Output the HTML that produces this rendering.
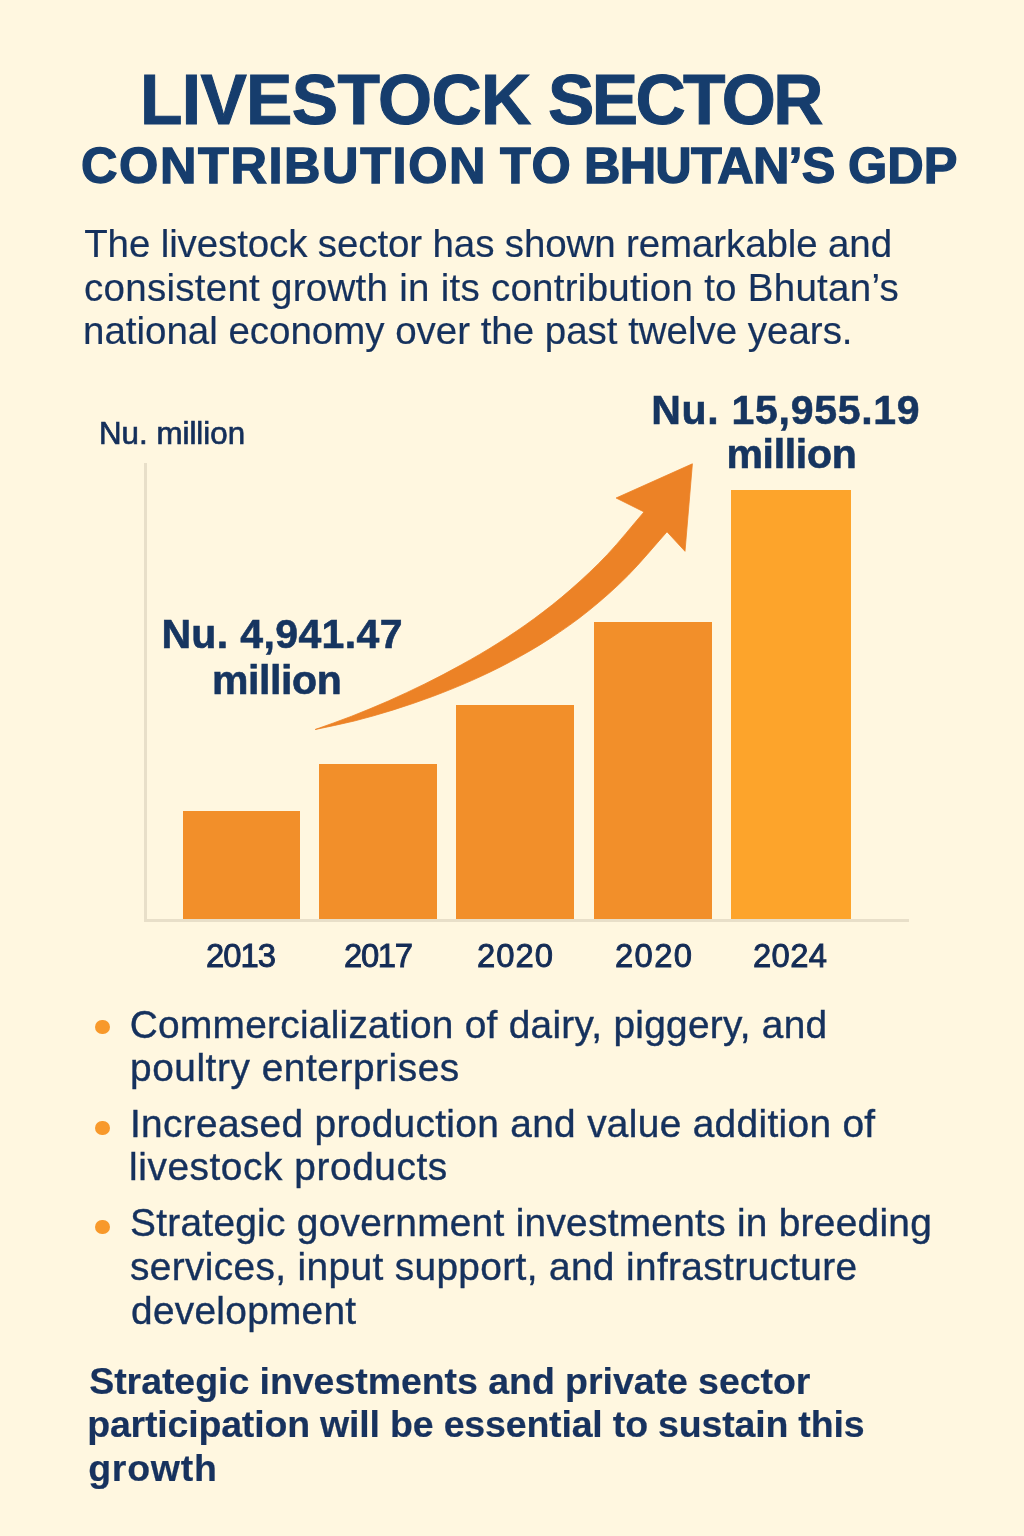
<!DOCTYPE html>
<html lang="en">
<head>
<meta charset="utf-8">
<title>Livestock Sector Contribution to Bhutan's GDP</title>
<style>
  html, body { margin: 0; padding: 0; }
  body {
    width: 1024px; height: 1536px; overflow: hidden; position: relative;
    background: #FFF7E0;
    font-family: "Liberation Sans", sans-serif;
    color: #1B2F5B;
  }
  .abs { position: absolute; white-space: nowrap; line-height: 1; margin: 0; font-weight: 400; }
  .hbox { position: absolute; left: 0; top: 0; width: 1024px; height: 0; margin: 0; padding: 0; font-size: 0; list-style: none; }
  .ttl  { font-weight: 700; color: #163D6D; -webkit-text-stroke: 1.0px #163D6D; }
  .ttl2 { font-weight: 700; color: #163D6D; -webkit-text-stroke: 1.3px #163D6D; }
  .intro { color: #15315D; -webkit-text-stroke: 0.2px #15315D; }
  .big { font-weight: 700; color: #163560; -webkit-text-stroke: 0.6px #163560; }
  .yr  { color: #142C56; -webkit-text-stroke: 0.9px #142C56; }
  .unit { color: #142F5A; -webkit-text-stroke: 0.7px #142F5A; }
  .li { color: #15315D; -webkit-text-stroke: 0.4px #15315D; }
  .foot { font-weight: 700; color: #17325E; -webkit-text-stroke: 0.2px #17325E; }
  .bar { position: absolute; background: #F28F2A; }
  .axis { position: absolute; background: #E8DFC9; }
  .dot { position: absolute; width: 14.4px; height: 14.4px; border-radius: 50%; background: #F8992B; left: 95.3px; }
</style>
</head>
<body>

<h1 class="hbox"><span class="abs ttl" id="h1a" style="left:140.0px; top:65.8px; font-size:69.5px; letter-spacing:-0.67px">LIVESTOCK</span> <span class="abs ttl" id="h1b" style="left:548.0px; top:65.8px; font-size:69.5px; letter-spacing:-2.60px">SECTOR</span></h1>
<h2 class="hbox"><span class="abs ttl2" id="h2a" style="left:81.0px; top:141.3px; font-size:50.5px; letter-spacing:1.58px">CONTRIBUTION</span> <span class="abs ttl2" id="h2b" style="left:500.0px; top:141.3px; font-size:50.5px; letter-spacing:1.48px">TO</span> <span class="abs ttl2" id="h2c" style="left:584.0px; top:141.3px; font-size:50.5px; letter-spacing:-0.81px">BHUTAN’S</span> <span class="abs ttl2" id="h2d" style="left:848.0px; top:141.3px; font-size:50.5px; letter-spacing:-0.02px">GDP</span></h2>

<p class="hbox"><span class="abs intro" id="p1" style="left:84.2px; top:225.4px; font-size:38.5px; letter-spacing:-0.12px">The livestock sector has shown remarkable and</span> <span class="abs intro" id="p2" style="left:84.0px; top:269.4px; font-size:38.5px; letter-spacing:0.27px">consistent growth in its contribution to Bhutan’s</span> <span class="abs intro" id="p3" style="left:83.0px; top:312.4px; font-size:38.5px; letter-spacing:-0.02px">national economy over the past twelve years.</span></p>

<!-- chart -->
<div class="abs unit" id="unit" style="left:99.0px; top:417.5px; font-size:31.3px; letter-spacing:-0.00px">Nu. million</div>

<div class="axis" id="yaxis" style="left:144px; top:463px; width:3px; height:459px;"></div>
<div class="axis" id="xaxis" style="left:144px; top:919px; width:765px; height:3px;"></div>

<div class="bar" id="b1" style="left:183px; top:811px; width:117px; height:108px;"></div>
<div class="bar" id="b2" style="left:319px; top:764px; width:118px; height:155px;"></div>
<div class="bar" id="b3" style="left:456px; top:705px; width:118px; height:214px;"></div>
<div class="bar" id="b4" style="left:594px; top:622px; width:118px; height:297px;"></div>
<div class="bar" id="b5" style="left:731px; top:490px; width:120px; height:429px; background:#FDA42B;"></div>

<svg class="abs" id="arrow" style="left:0; top:0;" width="1024" height="1536" viewBox="0 0 1024 1536">
  <path fill="#EC8226" stroke="#EC8226" stroke-width="0.8" stroke-linejoin="round" d="M315.2 729.5 C327.4 725.1 339.6 720.9 351.7 716.2 C363.9 711.4 376.1 706.3 388.3 701.0 C400.4 695.6 412.6 689.9 424.8 683.9 C437.0 677.9 449.2 671.6 461.3 664.8 C473.5 658.1 485.7 651.0 497.9 643.3 C510.0 635.6 522.2 627.5 534.4 618.5 C546.6 609.5 558.8 600.0 570.9 589.3 C583.1 578.6 595.3 567.3 607.5 554.4 C619.6 541.5 631.8 526.1 644.0 511.9 L616.1 498.0 L692.4 463.8 L685.0 551.3 L667.0 531.8 C654.0 546.4 640.9 562.4 627.9 575.6 C614.9 588.7 601.9 600.0 588.8 610.6 C575.8 621.1 562.8 630.2 549.7 638.7 C536.7 647.2 523.7 654.6 510.6 661.6 C497.6 668.6 484.6 674.8 471.6 680.6 C458.5 686.4 445.5 691.6 432.5 696.5 C419.4 701.4 406.4 705.8 393.4 709.9 C380.3 714.0 367.3 717.7 354.3 721.0 C341.3 724.2 328.2 726.7 315.2 729.5 Z"/>
</svg>

<div class="hbox"><span class="abs big" id="v1a" style="left:161.4px; top:614.0px; font-size:41px; letter-spacing:0.37px">Nu. 4,941.47</span> <span class="abs big" id="v1b" style="left:212.0px; top:659.8px; font-size:41px; letter-spacing:-0.40px">million</span></div>
<div class="hbox"><span class="abs big" id="v2a" style="left:651.2px; top:389.9px; font-size:41px; letter-spacing:0.72px">Nu. 15,955.19</span> <span class="abs big" id="v2b" style="left:726.4px; top:434.3px; font-size:41px; letter-spacing:-0.30px">million</span></div>

<div class="hbox"><span class="abs yr" id="y1" style="left:206.0px; top:939.9px; font-size:32.8px; letter-spacing:-0.99px">2013</span> <span class="abs yr" id="y2" style="left:344.0px; top:939.9px; font-size:32.8px; letter-spacing:-1.34px">2017</span> <span class="abs yr" id="y3" style="left:477.0px; top:939.9px; font-size:32.8px; letter-spacing:1.00px">2020</span> <span class="abs yr" id="y4" style="left:615.0px; top:939.9px; font-size:32.8px; letter-spacing:1.33px">2020</span> <span class="abs yr" id="y5" style="left:753.0px; top:939.9px; font-size:32.8px; letter-spacing:0.34px">2024</span></div>

<!-- bullets -->
<ul class="hbox">
  <li><span class="dot" id="d1" style="top:1020px"></span><span class="abs li" id="l1" style="left:129.8px; top:1005.5px; font-size:38.8px; letter-spacing:0.28px">Commercialization of dairy, piggery, and</span> <span class="abs li" id="l2" style="left:130.0px; top:1048.5px; font-size:38.8px; letter-spacing:0.56px">poultry enterprises</span></li>
  <li><span class="dot" id="d2" style="top:1121px"></span><span class="abs li" id="l3" style="left:130.0px; top:1105.0px; font-size:38.8px; letter-spacing:0.34px">Increased production and value addition of</span> <span class="abs li" id="l4" style="left:129.0px; top:1148.0px; font-size:38.8px; letter-spacing:0.58px">livestock products</span></li>
  <li><span class="dot" id="d3" style="top:1219.8px"></span><span class="abs li" id="l5" style="left:130.0px; top:1204.2px; font-size:38.8px; letter-spacing:0.29px">Strategic government investments in breeding</span> <span class="abs li" id="l6" style="left:130.0px; top:1248.4px; font-size:38.8px; letter-spacing:0.37px">services, input support, and infrastructure</span> <span class="abs li" id="l7" style="left:131.0px; top:1292.1px; font-size:38.8px; letter-spacing:0.30px">development</span></li>
</ul>

<p class="hbox"><span class="abs foot" id="f1" style="left:89.2px; top:1363.3px; font-size:37.5px; letter-spacing:-0.05px">Strategic investments and private sector</span> <span class="abs foot" id="f2" style="left:87.2px; top:1406.3px; font-size:37.5px; letter-spacing:-0.18px">participation will be essential to sustain this</span> <span class="abs foot" id="f3" style="left:88.2px; top:1450.2px; font-size:37.5px; letter-spacing:0.76px">growth</span></p>

</body>
</html>
